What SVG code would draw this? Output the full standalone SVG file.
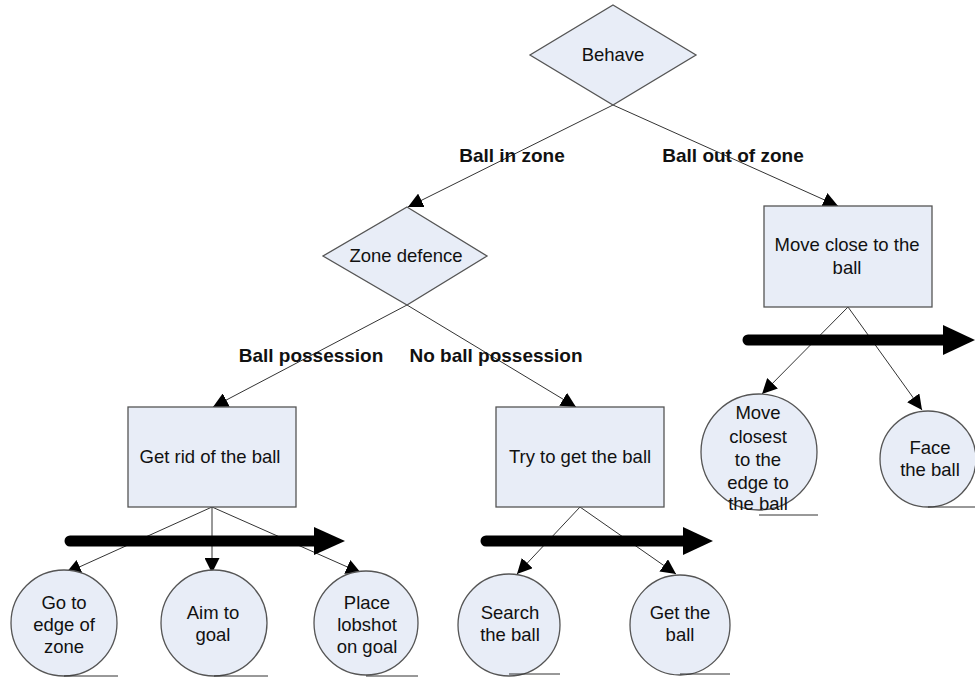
<svg xmlns="http://www.w3.org/2000/svg" width="975" height="677" viewBox="0 0 975 677">
<defs>
<style>
.n{fill:#e8edf7;stroke:#555;stroke-width:1.3}
.t{font-family:"Liberation Sans",Arial,sans-serif;font-size:18.5px;fill:#111;text-anchor:middle}
.l{font-family:"Liberation Sans",Arial,sans-serif;font-size:19px;font-weight:bold;fill:#111;text-anchor:middle}
.c{stroke:#333;stroke-width:1;fill:none;marker-end:url(#ah)}
.u{stroke:#333;stroke-width:1}
.thick{stroke:#000;stroke-width:11;stroke-linecap:round}
</style>
<marker id="ah" viewBox="0 0 10 10" refX="10" refY="5" markerWidth="15" markerHeight="15" markerUnits="userSpaceOnUse" orient="auto">
<path d="M0,0 L10,5 L0,10 z" fill="#000"/>
</marker>
</defs>
<rect width="975" height="677" fill="#fff"/>
<g id="connectors">
<line class="c" x1="613" y1="105" x2="408" y2="207"/>
<line class="c" x1="613" y1="105" x2="838" y2="206"/>
<line class="c" x1="407" y1="305" x2="213" y2="407"/>
<line class="c" x1="407" y1="305" x2="576" y2="407"/>
<line class="c" x1="848" y1="307" x2="762" y2="394"/>
<line class="c" x1="848" y1="307" x2="922" y2="410"/>
<line class="c" x1="212" y1="507" x2="66" y2="573"/>
<line class="c" x1="212" y1="507" x2="212" y2="573"/>
<line class="c" x1="212" y1="507" x2="361" y2="573"/>
<line class="c" x1="580" y1="507" x2="517" y2="574"/>
<line class="c" x1="580" y1="507" x2="676" y2="574"/>
</g>
<g id="flow-arrows">
<line class="thick" x1="70" y1="541" x2="318" y2="541"/>
<polygon points="314,527 345,541 314,555" fill="#000"/>
<line class="thick" x1="486" y1="541" x2="686" y2="541"/>
<polygon points="683,527 713,541 683,555" fill="#000"/>
<line class="thick" x1="748" y1="340" x2="946" y2="340"/>
<polygon points="943,325 975,340 943,355" fill="#000"/>
</g>
<g id="labels">
<text class="l" x="512" y="162">Ball in zone</text>
<text class="l" x="733" y="162">Ball out of zone</text>
<text class="l" x="311" y="362">Ball possession</text>
<text class="l" x="496" y="362">No ball possession</text>
</g>
<g id="behave">
<polygon class="n" points="613,5 696,55 613,105 530,55"/>
<text class="t" x="613" y="61">Behave</text>
</g>
<g id="zone-defence">
<polygon class="n" points="407,207 487,256 407,305 323,256"/>
<text class="t" x="406" y="262">Zone defence</text>
</g>
<g id="move-close">
<rect class="n" x="764" y="206" width="168" height="101"/>
<text class="t" x="847" y="251">Move close to the</text>
<text class="t" x="847" y="274">ball</text>
</g>
<g id="get-rid">
<rect class="n" x="128" y="407" width="168" height="100"/>
<text class="t" x="210" y="463">Get rid of the ball</text>
</g>
<g id="try-get">
<rect class="n" x="496" y="407" width="168" height="100"/>
<text class="t" x="580" y="463">Try to get the ball</text>
</g>
<g id="move-closest">
<circle class="n" cx="759" cy="452" r="58"/>
<text class="t" x="758" y="419">Move</text>
<text class="t" x="758" y="443">closest</text>
<text class="t" x="758" y="466">to the</text>
<text class="t" x="758" y="489">edge to</text>
<text class="t" x="758" y="510">the ball</text>
<line class="u" x1="759" y1="515" x2="818" y2="515"/>
</g>
<g id="face-ball">
<circle class="n" cx="928" cy="459" r="48"/>
<text class="t" x="930" y="454">Face</text>
<text class="t" x="930" y="476">the ball</text>
<line class="u" x1="928" y1="507" x2="975" y2="507"/>
</g>
<g id="go-edge">
<circle class="n" cx="64" cy="623" r="53"/>
<text class="t" x="64" y="609">Go to</text>
<text class="t" x="64" y="631">edge of</text>
<text class="t" x="64" y="653">zone</text>
<line class="u" x1="64" y1="676" x2="118" y2="676"/>
</g>
<g id="aim-goal">
<circle class="n" cx="214" cy="623" r="53"/>
<text class="t" x="213" y="619">Aim to</text>
<text class="t" x="213" y="641">goal</text>
<line class="u" x1="214" y1="676" x2="268" y2="676"/>
</g>
<g id="place-lobshot">
<circle class="n" cx="366" cy="623" r="52"/>
<text class="t" x="367" y="609">Place</text>
<text class="t" x="367" y="631">lobshot</text>
<text class="t" x="367" y="653">on goal</text>
<line class="u" x1="366" y1="676" x2="418" y2="676"/>
</g>
<g id="search-ball">
<circle class="n" cx="509" cy="625" r="51"/>
<text class="t" x="510" y="619">Search</text>
<text class="t" x="510" y="641">the ball</text>
<line class="u" x1="509" y1="674" x2="560" y2="674"/>
</g>
<g id="get-the-ball">
<circle class="n" cx="680" cy="625" r="50"/>
<text class="t" x="680" y="619">Get the</text>
<text class="t" x="680" y="641">ball</text>
<line class="u" x1="680" y1="674" x2="730" y2="674"/>
</g>
</svg>
